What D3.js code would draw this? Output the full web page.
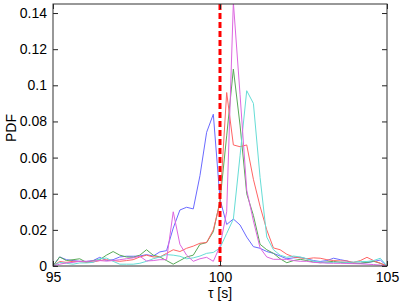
<!DOCTYPE html>
<meta charset="utf-8">
<style>
body { margin: 0; background: #fff; }
text { font-family: "Liberation Sans", Arial, sans-serif; font-size: 14px; fill: #000; }
.line { fill: none; stroke-width: 1; }
</style>
<svg width="402" height="303"></svg>
<script src="https://d3js.org/d3.v7.min.js"></script>
<script>

// bin positions (s)
var tau = [95.0, 95.2, 95.4, 95.6, 95.8, 96.0, 96.2, 96.4, 96.6, 96.8,
  97.0, 97.2, 97.4, 97.6, 97.8, 98.0, 98.2, 98.4, 98.6, 98.8,
  99.0, 99.2, 99.4, 99.6, 99.8, 100.0, 100.2, 100.4, 100.6, 100.8,
  101.0, 101.2, 101.4, 101.6, 101.8, 102.0, 102.2, 102.4, 102.6, 102.8,
  103.0, 103.2, 103.4, 103.6, 103.8, 104.0, 104.2, 104.4, 104.6, 104.8, 105.0];

var pdfBlue = [0, 0.005, 0.0035, 0.003, 0.0026, 0.0025, 0.003, 0.0048, 0.003, 0.0035,
  0.005, 0.0054, 0.0054, 0.0055, 0.0063, 0.0055, 0.0078, 0.0085, 0.021, 0.031,
  0.0325, 0.0316, 0.05, 0.074, 0.084, 0.037, 0.023, 0.026, 0.0227, 0.016,
  0.0107, 0.0098, 0.008, 0.007, 0.0055, 0.004, 0.0045, 0.0048, 0.004, 0.003,
  0.0025, 0.003, 0.0043, 0.0035, 0.0028, 0.0015, 0.0015, 0.0018, 0.0025, 0.0033, 0];

var pdfGreen = [0, 0.005, 0.003, 0.0035, 0.004, 0.002, 0.003, 0.0035, 0.006, 0.008,
  0.006, 0.005, 0.0048, 0.006, 0.009, 0.006, 0.005, 0.003, 0.001, 0.003,
  0.005, 0.006, 0.012, 0.013, 0.019, 0.036, 0.072, 0.109, 0.078, 0.040,
  0.028, 0.012, 0.009, 0.007, 0.004, 0.0018, 0.003, 0.0037, 0.003, 0.0022,
  0.0018, 0.0022, 0.0026, 0.002, 0.0018, 0.0016, 0.0015, 0.002, 0.0026, 0.0015, 0];

var pdfRed = [0, 0.0025, 0.002, 0.0026, 0.0025, 0.002, 0.0022, 0.003, 0.0035, 0.003,
  0.0026, 0.003, 0.0035, 0.005, 0.006, 0.005, 0.005, 0.007, 0.009, 0.008,
  0.0098, 0.011, 0.0126, 0.013, 0.020, 0.035, 0.096, 0.067, 0.066, 0.067,
  0.048, 0.033, 0.020, 0.010, 0.009, 0.0065, 0.005, 0.0045, 0.004, 0.0045,
  0.0043, 0.0035, 0.003, 0.0028, 0.0028, 0.002, 0.003, 0.0048, 0.003, 0.0015, 0];

var pdfCyan = [0, 0.002, 0.0015, 0.001, 0.0017, 0.0017, 0.002, 0.004, 0.0044, 0.0026,
  0.001, 0.001, 0.001, 0.0015, 0.0026, 0.004, 0.005, 0.0063, 0.006, 0.0054,
  0.004, 0.0045, 0.0055, 0.007, 0.0075, 0.010, 0.018, 0.026, 0.061, 0.097,
  0.090, 0.049, 0.016, 0.009, 0.006, 0.0048, 0.0055, 0.005, 0.004, 0.0026,
  0.0022, 0.0018, 0.002, 0.0022, 0.002, 0.0022, 0.0025, 0.0025, 0.003, 0.0043, 0];

var pdfMagenta = [0, 0.001, 0.0017, 0.002, 0.0026, 0.0026, 0.0028, 0.003, 0.0027, 0.003,
  0.0035, 0.004, 0.0045, 0.0054, 0.0028, 0.003, 0.0035, 0.0035, 0.030, 0.012,
  0.006, 0.0026, 0.004, 0.0048, 0.0026, 0.011, 0.03, 0.146, 0.095, 0.042,
  0.025, 0.010, 0.005, 0.0037, 0.0037, 0.0037, 0.003, 0.0026, 0.0026, 0.002,
  0.0018, 0.0016, 0.0015, 0.0015, 0.0014, 0.0013, 0.0012, 0.001, 0.0008, 0.0005, 0];

var xTicks = [95, 100, 105];
var yTicks = [0, 0.02, 0.04, 0.06, 0.08, 0.1, 0.12, 0.14];
var tauRef = 100;

var series = [
  {values: pdfBlue, color: "#6a6aff"},
  {values: pdfGreen, color: "#58aa58"},
  {values: pdfRed, color: "#ff6464"},
  {values: pdfCyan, color: "#66ddd6"},
  {values: pdfMagenta, color: "#dd66e0"}
];

var svg = d3.select("svg"),
    margin = {top: 4, right: 15, bottom: 37, left: 53},
    width = +svg.attr("width") - margin.left - margin.right,
    height = +svg.attr("height") - margin.top - margin.bottom;

var x = d3.scaleLinear().domain([95, 105]).range([0, width]),
    y = d3.scaleLinear().domain([0, 0.145]).range([height, 0]);

var g = svg.append("g")
    .attr("transform", "translate(" + margin.left + "," + margin.top + ")");

g.append("clipPath").attr("id", "clip")
  .append("rect").attr("width", width).attr("height", height);

var line = d3.line()
    .x(function(d, i) { return x(tau[i]); })
    .y(function(d) { return y(d); });

var plot = g.append("g").attr("clip-path", "url(#clip)");

plot.selectAll(".line")
  .data(series)
  .enter().append("path")
    .attr("class", "line")
    .attr("stroke", function(d) { return d.color; })
    .attr("d", function(d) { return line(d.values); });

// reference time
plot.append("line")
    .attr("x1", x(tauRef)).attr("x2", x(tauRef))
    .attr("y1", 0).attr("y2", height)
    .attr("stroke", "#ff0000")
    .attr("stroke-width", 3)
    .attr("stroke-dasharray", "6,3");

// axes, ticks pointing inward
function styleAxis(sel) {
  sel.select(".domain").remove();
  sel.selectAll(".tick line").attr("stroke", "#222");
  sel.selectAll(".tick text").style("font-size", "14px").attr("fill", "#000");
}

g.append("g")
    .attr("transform", "translate(0," + height + ")")
    .call(d3.axisBottom(x).tickValues(xTicks).tickSizeInner(-5).tickSizeOuter(0).tickPadding(6))
    .call(styleAxis);

g.append("g")
    .call(d3.axisTop(x).tickValues(xTicks).tickSizeInner(-5).tickSizeOuter(0).tickFormat(""))
    .call(styleAxis);

g.append("g")
    .call(d3.axisLeft(y).tickValues(yTicks).tickSizeInner(-5).tickSizeOuter(0).tickPadding(6)
      .tickFormat(function(d) { return d === 0 ? "0" : d3.format("")(+d.toFixed(2)); }))
    .call(styleAxis);

g.append("g")
    .attr("transform", "translate(" + width + ",0)")
    .call(d3.axisRight(y).tickValues(yTicks).tickSizeInner(-5).tickSizeOuter(0).tickFormat(""))
    .call(styleAxis);

g.append("rect")
    .attr("width", width).attr("height", height)
    .attr("fill", "none")
    .attr("stroke", "#333")
    .attr("stroke-width", 1);

svg.append("text")
    .attr("x", margin.left + x(100))
    .attr("y", 298)
    .attr("text-anchor", "middle")
    .text("τ [s]");

svg.append("text")
    .attr("transform", "translate(16,128) rotate(-90)")
    .attr("text-anchor", "middle")
    .text("PDF");

</script>
